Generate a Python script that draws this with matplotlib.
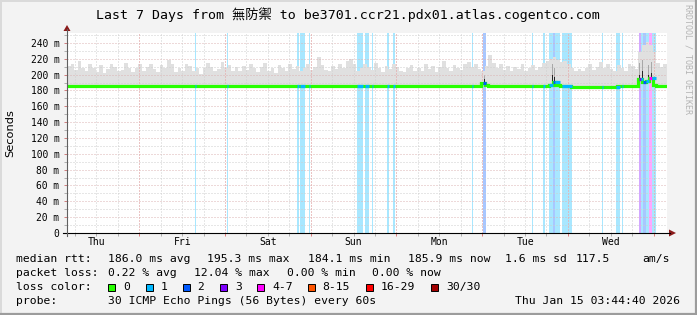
import numpy as np
import matplotlib.pyplot as plt
from matplotlib.patches import Rectangle, Polygon
from matplotlib.lines import Line2D
from matplotlib.colors import to_rgb

W, H = 697, 315

# ---- data -------------------------------------------------------------
title = 'Last 7 Days from 無防禦 to be3701.ccr21.pdx01.atlas.cogentco.com'
day_labels = ['Thu', 'Fri', 'Sat', 'Sun', 'Mon', 'Tue', 'Wed']
first_noon_h = 8.256      # start is Thu 03:44:40
first_midnight_h = 20.256
span_h = 168

y_ticks = [0, 20, 40, 60, 80, 100, 120, 140, 160, 180, 200, 220, 240]
y_tick_labels = ['0', '20 m', '40 m', '60 m', '80 m', '100 m', '120 m', '140 m',
                 '160 m', '180 m', '200 m', '220 m', '240 m']

# hourly median rtt (ms)
median_ms = [
    186.0, 186.1, 186.0, 185.9, 186.0, 186.1, 186.0, 186.0, 185.9, 186.0, 186.1, 186.0,
    186.0, 186.0, 185.9, 186.0, 186.1, 186.0, 186.0, 186.0, 185.9, 186.0, 186.0, 186.1,
    186.0, 186.0, 186.1, 186.0, 185.9, 186.0, 186.0, 186.1, 186.0, 186.0, 185.9, 186.0,
    186.1, 186.0, 186.0, 186.0, 185.9, 186.0, 186.1, 186.0, 186.0, 186.0, 186.1, 186.0,
    186.0, 185.9, 186.0, 186.1, 186.0, 186.0, 186.0, 185.9, 186.0, 186.1, 186.0, 186.0,
    186.0, 186.1, 186.0, 185.9, 186.0, 186.0, 186.1, 186.0, 186.0, 186.0, 185.9, 186.0,
    186.0, 186.1, 186.0, 186.0, 185.9, 186.0, 186.0, 186.1, 186.0, 186.0, 186.0, 185.9,
    186.0, 186.1, 186.0, 186.0, 186.0, 185.9, 186.0, 186.1, 186.0, 186.0, 186.0, 186.0,
    186.0, 185.9, 186.0, 186.1, 186.0, 186.0, 186.0, 185.9, 186.0, 186.1, 186.0, 186.0,
    186.0, 186.0, 186.1, 186.0, 186.0, 185.9, 186.0, 186.0, 189.5, 187.0, 186.0, 186.1,
    186.0, 186.0, 185.9, 186.0, 186.1, 186.0, 186.0, 186.0, 185.9, 186.0, 186.0, 186.1,
    186.0, 186.0, 186.0, 187.5, 190.5, 187.0, 186.0, 186.0, 186.0, 184.5, 184.4, 184.5,
    184.5, 184.4, 184.5, 184.5, 184.6, 184.5, 184.4, 184.5, 184.5, 184.6, 186.0, 186.0,
    185.9, 186.0, 186.1, 186.0, 194.8, 190.5, 192.0, 195.3, 187.0, 186.0, 186.1, 185.9,
]

# hourly upper edge of the ping smoke (ms)
smoke_top_ms = [
    211, 214, 206, 217, 209, 204, 214, 208, 203, 212, 202, 207,
    213, 210, 204, 206, 215, 209, 203, 208, 213, 205, 210, 214,
    207, 203, 212, 208, 219, 213, 203, 209, 205, 214, 211, 204,
    208, 201, 209, 215, 210, 204, 207, 216, 208, 212, 205, 210,
    204, 211, 206, 213, 208, 203, 210, 215, 205, 209, 202, 212,
    208, 204, 214, 207, 211, 205, 209, 213, 206, 210, 222, 212,
    206, 204, 211, 207, 213, 209, 217, 220, 213, 205, 209, 214,
    210, 206, 215, 208, 203, 211, 207, 214, 210, 205, 203, 209,
    212, 205, 209, 204, 214, 207, 211, 203, 210, 217, 208, 205,
    212, 209, 206, 214, 216, 210, 213, 207, 204, 211, 225, 215,
    208, 213, 206, 211, 204, 210, 207, 214, 205, 209, 212, 206,
    210, 215, 217, 220, 222, 219, 216, 217, 213, 209, 205, 207,
    204, 208, 213, 206, 210, 216, 209, 213, 207, 204, 212, 208,
    205, 214, 211, 207, 228, 238, 241, 237, 229, 215, 210, 213,
]

# darker smoke streaks around the loss events
dark_start_h = [116.7, 135.7, 136.3, 160.2, 161.0, 162.6, 163.4]
dark_end_h = [117.1, 136.0, 136.7, 160.5, 161.4, 162.9, 163.8]
dark_grey_top_ms = [199, 213, 208, 215, 219, 212, 216]
dark_black_top_ms = [194, 200, 197, 200, 204, 199, 202]

# packet loss periods (hours from start, loss class index)
loss_start_h = [35.8, 44.8, 64.4, 65.2, 67.8, 81.2, 83.4, 85.4, 89.6, 91.3,
                113.4, 116.5, 130.2, 133.3, 135.0, 136.1, 136.6, 138.6, 149.8,
                153.7, 155.4, 160.2, 160.7, 161.3, 162.1, 163.0, 163.8]
loss_end_h = [36.1, 45.1, 65.0, 66.6, 68.1, 82.9, 84.6, 85.7, 90.2, 91.8,
              113.7, 117.3, 130.5, 133.8, 136.1, 136.6, 138.0, 141.4, 150.1,
              154.8, 155.7, 160.7, 161.3, 162.1, 163.0, 163.8, 164.9]
loss_class = [1, 1, 1, 1, 1, 1, 1, 1, 1, 1,
              1, 2, 1, 1, 1, 2, 1, 1, 1,
              1, 1, 3, 1, 2, 1, 4, 1]

loss_labels = ['0', '1', '2', '3', '4-7', '8-15', '16-29', '30/30']
loss_colors = ['#26ff00', '#00b8ff', '#0059ff', '#7e00ff', '#ff00ff',
               '#ff5500', '#ff0000', '#a00000']

stats_rtt = ['186.0 ms avg', '195.3 ms max', '184.1 ms min', '185.9 ms now',
             '1.6 ms sd', '117.5', 'am/s']
stats_loss = ['0.22 % avg', '12.04 % max', '0.00 % min', '0.00 % now']
probe_text = '30 ICMP Echo Pings (56 Bytes) every 60s'
stamp = 'Thu Jan 15 03:44:40 2026'

# ---- styling ---------------------------------------------------------
MONO = ['DejaVu Sans Mono', 'Noto Sans CJK TC']
BACK = '#f3f3f3'
GRID = '#cfcfcf'
MGRID_H = '#dcb4b4'
MGRID_V = '#f0a4a4'
ARROW = '#8b1a1a'


def lighten(c, a=0.34):
    r, g, b = to_rgb(c)
    return (1 - a + a * r, 1 - a + a * g, 1 - a + a * b)


fig = plt.figure(figsize=(W / 100, H / 100), dpi=100)
fig.patch.set_facecolor(BACK)

x0, x1, ytop, ybot = 67, 667, 33, 233
ax = fig.add_axes([x0 / W, (H - ybot) / H, (x1 - x0) / W, (ybot - ytop) / H])
ax.set_facecolor('white')
ax.set_xlim(0, span_h)
ax.set_ylim(0, 252.6)
for s in ax.spines.values():
    s.set_visible(False)

# loss background columns
for s, e, c in zip(loss_start_h, loss_end_h, loss_class):
    ax.axvspan(s, e, color=lighten(loss_colors[c]), lw=0, zorder=1)

# smoke
edges = np.arange(len(median_ms) + 1)
ax.stairs(smoke_top_ms, edges, baseline=median_ms, fill=True,
          color='#e0e0e0', lw=0, zorder=2)
for s, e, g, b in zip(dark_start_h, dark_end_h, dark_grey_top_ms, dark_black_top_ms):
    m = median_ms[int(s)]
    ax.fill_between([s, e], m, g, color='#a8a8a8', lw=0, zorder=3)
    ax.fill_between([s, e], m, b, color='#262626', lw=0, zorder=3)

# grid
dash = (0, (1, 2))
for v in np.arange(10, 252, 20):
    ax.axhline(v, color=GRID, lw=0.72, ls=dash, zorder=4)
for v in y_ticks[1:]:
    ax.axhline(v, color=MGRID_H, lw=0.72, ls=dash, zorder=4)
minor_x = np.arange(first_midnight_h - 18, span_h, 6)
major_x = np.arange(first_midnight_h, span_h, 24)
for v in minor_x:
    ax.axvline(v, color=GRID, lw=0.72, ls=dash, zorder=4)
for v in major_x:
    ax.axvline(v, color=MGRID_V, lw=0.72, ls=dash, zorder=4)

# median line, coloured by loss
ax.stairs(median_ms, edges, baseline=None, color=loss_colors[0], lw=2.3, zorder=5)
for s, e, c in zip(loss_start_h, loss_end_h, loss_class):
    ax.hlines(median_ms[int(s)], s, e, color=loss_colors[c], lw=2.3, zorder=6)

# ticks
ax.set_yticks(y_ticks, y_tick_labels, family=MONO, fontsize=6.9)
ax.set_yticks(np.arange(10, 252, 20), minor=True)
ax.tick_params(axis='y', which='major', length=2.2, width=0.72, color='#d08080', pad=3.2)
ax.tick_params(axis='y', which='minor', length=2.2, width=0.72, color='#b0b0b0')
ax.set_xticks(major_x, [])
ax.set_xticks(minor_x, minor=True)
ax.tick_params(axis='x', which='major', length=2.2, width=0.72, color='#e08080')
ax.tick_params(axis='x', which='minor', length=2.2, width=0.72, color='#b0b0b0')
for i, d in enumerate(day_labels):
    ax.annotate(d, (first_noon_h + 24 * i, 0), xycoords=('data', 'axes fraction'),
                xytext=(0, -6.6), textcoords='offset points',
                ha='center', va='center', family=MONO, fontsize=7)


def px(x, y):
    return x / W, 1 - y / H


# axes lines and arrows
fig.add_artist(Line2D(*zip(px(63, ybot), px(670, ybot)), color='black', lw=0.8))
fig.add_artist(Line2D(*zip(px(x0, ybot + 3), px(x0, 29)), color='#606060', lw=0.8))
fig.add_artist(Polygon([px(669, ybot - 3.5), px(676, ybot), px(669, ybot + 3.5)],
                       closed=True, color=ARROW, lw=0))
fig.add_artist(Polygon([px(x0 - 3.5, 31), px(x0, 25), px(x0 + 3.5, 31)],
                       closed=True, color=ARROW, lw=0))

# frame shading
fig.add_artist(Line2D(*zip(px(0, 0.5), px(W, 0.5)), color='#dadada', lw=1.4))
fig.add_artist(Line2D(*zip(px(0.5, 0), px(0.5, H)), color='#dadada', lw=1.4))
fig.add_artist(Line2D(*zip(px(0, H - 1), px(W, H - 1)), color='#9c9c9c', lw=1.6))
fig.add_artist(Line2D(*zip(px(W - 1, 0), px(W - 1, H)), color='#9c9c9c', lw=1.6))

# texts
fig.text(*px(348, 15), title, ha='center', va='center', family=MONO, fontsize=9.5)
fig.text(*px(688, 4), 'RRDTOOL / TOBI OETIKER', rotation=270, ha='center', va='top',
         family=MONO, fontsize=6, color='#b4b4b4')
fig.text(*px(10, 133), 'Seconds', rotation=90, ha='center', va='center',
         family='DejaVu Sans', fontsize=8.2)

LF = dict(family=MONO, fontsize=8.2, va='center', ha='left')
rows_y = [259.3, 273.3, 287.3, 301.3]
fig.text(*px(16, rows_y[0]), 'median rtt:', **LF)
for x, s in zip([107.6, 207, 308, 408, 505, 576, 642], stats_rtt):
    fig.text(*px(x, rows_y[0]), s, **LF)
fig.text(*px(16, rows_y[1]), 'packet loss:', **LF)
for x, s in zip([107.6, 194, 287, 372], stats_loss):
    fig.text(*px(x, rows_y[1]), s, **LF)
fig.text(*px(16, rows_y[2]), 'loss color:', **LF)
for x, lab, col in zip([108, 145.5, 182.5, 220, 257, 307.5, 365.5, 431],
                       loss_labels, loss_colors):
    fig.add_artist(Rectangle(px(x, rows_y[2] + 3.5), 7 / W, 7 / H,
                             transform=fig.transFigure, facecolor=col,
                             edgecolor='black', lw=0.7))
    fig.text(*px(x + 15, rows_y[2]), lab, **LF)
fig.text(*px(16, rows_y[3]), 'probe:', **LF)
fig.text(*px(107.6, rows_y[3]), probe_text, **LF)
fig.text(*px(680, rows_y[3]), stamp, family=MONO, fontsize=8.2, va='center', ha='right')

fig.savefig('out.png', dpi=100, facecolor=BACK)
